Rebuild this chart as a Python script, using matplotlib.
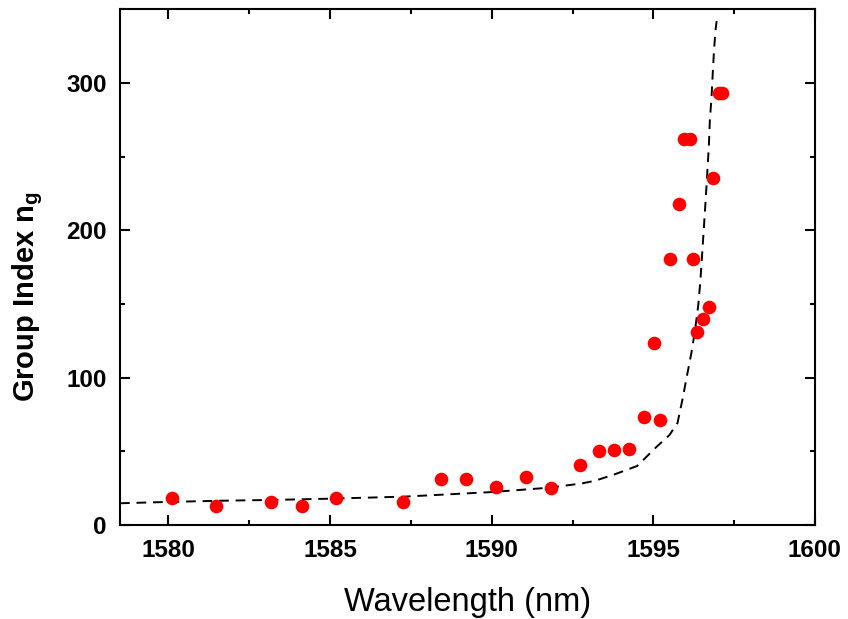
import matplotlib
matplotlib.use("Agg")
import matplotlib.pyplot as plt
from matplotlib.ticker import MultipleLocator

# measured group index (red dots)
wl_meas = [1580.12, 1581.46, 1583.16, 1584.14, 1585.17, 1587.27, 1588.44, 1589.20,
           1590.12, 1591.05, 1591.82, 1592.73, 1593.32, 1593.78, 1594.24, 1594.71,
           1595.20, 1595.02, 1595.53, 1595.81, 1595.94, 1596.12, 1596.24, 1596.36,
           1596.55, 1596.72, 1596.85, 1597.04, 1597.14]
ng_meas = [18.1, 13.1, 15.6, 12.9, 18.1, 15.6, 31.1, 31.1,
           25.5, 32.3, 24.8, 40.4, 50.4, 51.1, 51.3, 73.3,
           71.1, 123.7, 180.8, 218.0, 262.0, 262.0, 180.8, 130.9,
           139.5, 147.8, 235.4, 293.2, 293.2]

# simulated curve (dashed)
wl_sim = [1578.5, 1580.0, 1581.6, 1583.3, 1585.0, 1587.3, 1590.0, 1591.8, 1592.8,
          1593.2, 1593.8, 1594.5, 1595.1, 1595.5, 1595.75, 1595.9, 1596.03, 1596.18,
          1596.29, 1596.39, 1596.45, 1596.5, 1596.55, 1596.6, 1596.64, 1596.68,
          1596.72, 1596.75, 1596.8, 1596.84, 1596.88, 1596.93, 1596.96]
ng_sim = [14.7, 15.6, 16.4, 17.0, 17.8, 19.2, 22.3, 25.3, 28.2,
          30.0, 34.3, 40.0, 53.0, 61.0, 69.3, 85.0, 100.0, 117.0,
          132.0, 149.0, 164.0, 180.0, 197.0, 214.0, 228.0, 243.0,
          258.0, 275.0, 290.0, 307.0, 323.0, 337.0, 342.0]

plt.rcParams['font.family'] = ['Liberation Sans', 'DejaVu Sans']

fig = plt.figure(figsize=(8.48, 6.19), dpi=100)
ax = fig.add_axes([0.1415, 0.152, 0.8195, 0.833])

ax.plot(wl_sim, ng_sim, color='black', linestyle='--', dashes=(5, 3.5), linewidth=1.4, zorder=2)
ax.plot(wl_meas, ng_meas, 'o', color='#ff0000', markersize=9.8, markeredgewidth=0, zorder=3)

ax.set_xlim(1578.5, 1600)
ax.set_ylim(0, 350)
ax.xaxis.set_major_locator(MultipleLocator(5))
ax.xaxis.set_minor_locator(MultipleLocator(2.5))
ax.yaxis.set_major_locator(MultipleLocator(100))
ax.yaxis.set_minor_locator(MultipleLocator(50))

ax.tick_params(which='both', direction='in', top=True, right=True, width=1.5)
ax.tick_params(which='major', length=7.5, labelsize=17.5)
ax.tick_params(which='minor', length=3.8)
ax.tick_params(axis='x', which='major', pad=10.5)
ax.tick_params(axis='y', which='major', pad=9.5)
for lab in ax.get_xticklabels() + ax.get_yticklabels():
    lab.set_fontweight('bold')
for sp in ax.spines.values():
    sp.set_linewidth(1.5)

ax.set_xlabel('Wavelength (nm)', fontsize=23.5, labelpad=18)
ax.set_ylabel(r'Group Index n$_\mathregular{g}$', fontsize=21, fontweight='bold', labelpad=15)
# label sits a bit below the axis centre in the original
ax.yaxis.label.set_y(0.442)

fig.savefig('out.png', dpi=100)
